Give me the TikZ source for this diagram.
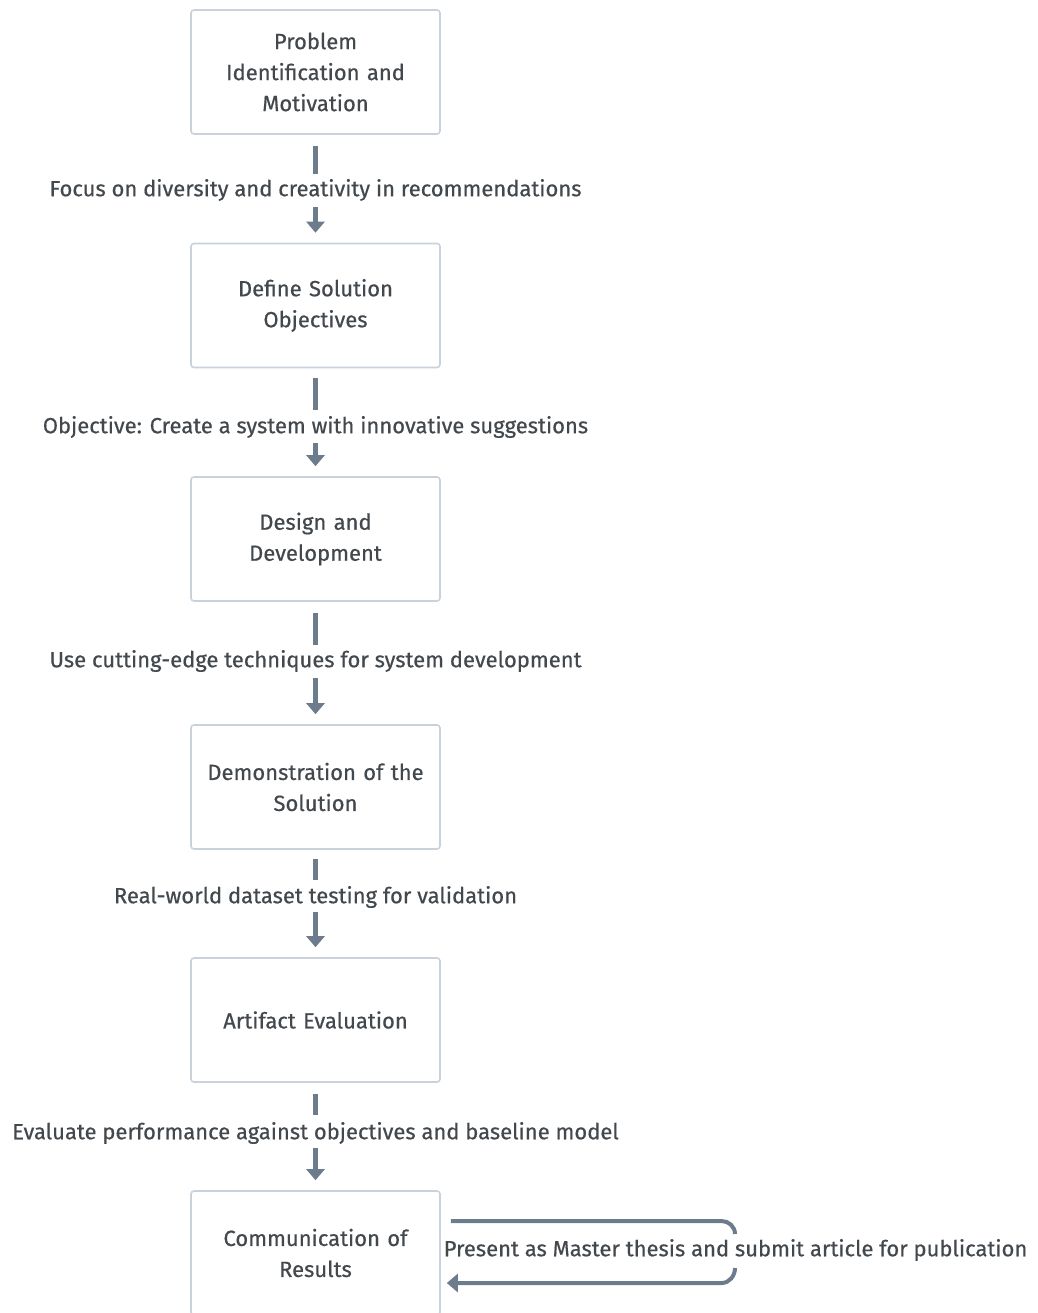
\documentclass[tikz,border=0pt]{standalone}
\usepackage{fontspec}
\setmainfont{Fira Sans}[FakeBold=0.5]
\usetikzlibrary{arrows.meta}
\definecolor{boxline}{HTML}{C9D1DA}
\definecolor{flow}{HTML}{6C7C8D}
\definecolor{ink}{HTML}{43484D}
\tikzset{
  stage/.style={draw=boxline, line width=1.6pt, rounded corners=3pt, fill=white,
    minimum width=249pt, minimum height=124pt, align=center, text=ink,
    font=\fontsize{22}{31}\selectfont, text width=240pt},
  note/.style={text=ink, font=\fontsize{22}{25}\selectfont, inner sep=0pt},
  seg/.style={draw=flow, line width=5pt},
  arr/.style={draw=flow, line width=5pt, -{Triangle[width=18pt,length=11pt]}},
}
\begin{document}
\begin{tikzpicture}[x=1pt,y=-1pt]
\useasboundingbox (0,0) rectangle (1037,1313);

% stages of the process
\node[stage] (b1) at (315.5,72)   {Problem\\Identification and\\Motivation};
\node[stage] (b2) at (315.5,305.5) {Define Solution\\Objectives};
\node[stage] (b3) at (315.5,539)  {Design and\\Development};
\node[stage] (b4) at (315.5,787)  {Demonstration of the\\Solution};
\node[stage] (b5) at (315.5,1020) {Artifact Evaluation};
\node[stage] (b6) at (315.5,1253) {Communication of\\Results};

% transition labels
\node[note] (l1) at (315.5,190)  {Focus on diversity and creativity in recommendations};
\node[note] (l2) at (315.5,427)  {Objective: Create a system with innovative suggestions};
\node[note] (l3) at (315.5,661)  {Use cutting-edge techniques for system development};
\node[note] (l4) at (315.5,897)  {Real-world dataset testing for validation};
\node[note] (l5) at (315.5,1133) {Evaluate performance against objectives and baseline model};
\node[note] (l6) at (735.5,1250) {Present as Master thesis and submit article for publication};

% transitions between stages
\draw[seg, shorten <=11pt, shorten >=16pt] (b1.south) -- (l1.center);
\draw[arr, shorten <=17pt, shorten >=10pt] (l1.center) -- (b2.north);
\draw[seg, shorten <=10pt, shorten >=17pt] (b2.south) -- (l2.center);
\draw[arr, shorten <=16pt, shorten >=10pt] (l2.center) -- (b3.north);
\draw[seg, shorten <=11pt, shorten >=16pt] (b3.south) -- (l3.center);
\draw[arr, shorten <=17pt, shorten >=10pt] (l3.center) -- (b4.north);
\draw[seg, shorten <=9pt, shorten >=17pt] (b4.south) -- (l4.center);
\draw[arr, shorten <=15pt, shorten >=10pt] (l4.center) -- (b5.north);
\draw[seg, shorten <=11pt, shorten >=18pt] (b5.south) -- (l5.center);
\draw[arr, shorten <=15pt, shorten >=10pt] (l5.center) -- (b6.north);

% self loop on the last stage
\draw[seg, line width=4pt] ([shift={(10,-32)}]b6.east) -- ([shift={(-14,-29)}]l6.center)
  to[out=0,in=90] ([shift={(-0.5,-16)}]l6.center);
\draw[arr, line width=4pt] ([shift={(-0.5,18)}]l6.center)
  to[out=-90,in=0] ([shift={(-14,33)}]l6.center) -- ([shift={(6,30)}]b6.east);
\end{tikzpicture}
\end{document}
